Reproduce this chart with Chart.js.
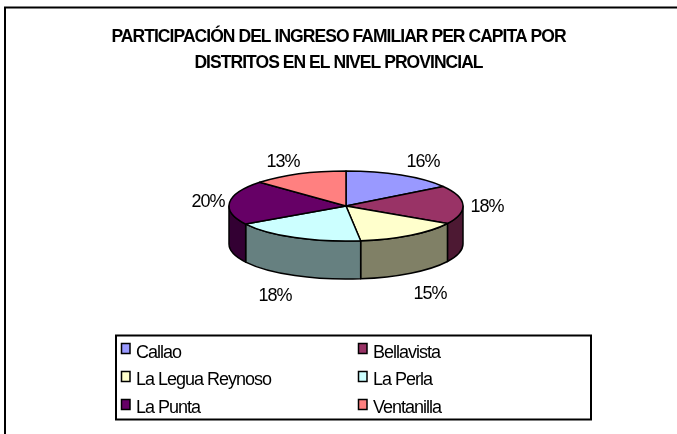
<!DOCTYPE html>
<html><head><meta charset="utf-8">
<style>html,body{margin:0;padding:0;background:#fff}canvas{display:block}</style>
<script src="https://cdn.jsdelivr.net/npm/chart.js@4"></script>
</head><body>
<div style="width:677px;height:434px"><canvas id="c"></canvas></div>
<script>
const titleLines = ['PARTICIPACIÓN DEL INGRESO FAMILIAR PER CAPITA POR', 'DISTRITOS EN EL NIVEL PROVINCIAL'];
const categories = ['Callao', 'Bellavista', 'La Legua Reynoso', 'La Perla', 'La Punta', 'Ventanilla'];
const shares = [15.6, 17.7, 14.7, 18.4, 20.4, 13.2];
const topColors = ['#9999FF', '#993366', '#FFFFCC', '#CCFFFF', '#660066', '#FF8080'];
const sideColors = ['#4D4D80', '#4D1933', '#808066', '#668080', '#330033', '#804040'];
const FONT = '"Liberation Sans", Arial, sans-serif';

const tilt = 0.3, depth = 38, pieShiftX = 7.5;
const labelPos = [[423,162],[487,207],[430,294],[275,296],[208,202],[283,162]];

const pie3d = {
  id: 'pie3d',
  beforeDraw(chart) {
    const ctx = chart.ctx;
    ctx.save();
    ctx.fillStyle = '#fff';
    ctx.fillRect(0, 0, chart.width, chart.height);
    ctx.strokeStyle = '#000';
    ctx.lineWidth = 2;
    ctx.beginPath();
    ctx.moveTo(5, chart.height);
    ctx.lineTo(5, 7.5);
    ctx.lineTo(chart.width, 7.5);
    ctx.stroke();
    ctx.restore();
    ctx.letterSpacing = '-0.95px';
  },
  beforeDatasetDraw(chart) {
    const ctx = chart.ctx;
    const arcs = chart.getDatasetMeta(0).data;
    const a0 = arcs[0];
    const cx = a0.x + pieShiftX, cy = a0.y, rx = a0.outerRadius, ry = rx * tilt;
    const norm = t => { const p = Math.PI * 2; return ((t % p) + p) % p; };
    ctx.save();
    ctx.strokeStyle = '#000';
    ctx.lineWidth = 1.5;
    ctx.lineJoin = 'round';
    arcs.forEach((a, i) => {
      let s = norm(a.startAngle), e = s + (a.endAngle - a.startAngle);
      const ranges = [[s, e], [s - Math.PI * 2, e - Math.PI * 2]];
      ranges.forEach(([p, q]) => {
        const from = Math.max(p, 0), to = Math.min(q, Math.PI);
        if (to <= from) return;
        ctx.beginPath();
        ctx.ellipse(cx, cy, rx, ry, 0, from, to);
        ctx.ellipse(cx, cy + depth, rx, ry, 0, to, from, true);
        ctx.closePath();
        ctx.fillStyle = sideColors[i];
        ctx.fill();
        ctx.stroke();
      });
    });
    arcs.forEach((a, i) => {
      ctx.beginPath();
      ctx.moveTo(cx, cy);
      ctx.ellipse(cx, cy, rx, ry, 0, a.startAngle, a.endAngle);
      ctx.closePath();
      ctx.fillStyle = topColors[i];
      ctx.fill();
      ctx.stroke();
    });
    ctx.restore();
    return false;
  },
  afterDatasetsDraw(chart) {
    const ctx = chart.ctx;
    const total = shares.reduce((p, v) => p + v, 0);
    ctx.save();
    ctx.letterSpacing = '-1px';
    ctx.fillStyle = '#000';
    ctx.font = '18px ' + FONT;
    ctx.textAlign = 'center';
    ctx.textBaseline = 'middle';
    shares.forEach((v, i) => {
      ctx.fillText(Math.round(v / total * 100) + '%', labelPos[i][0], labelPos[i][1]);
    });
    ctx.strokeStyle = '#000';
    ctx.lineWidth = 2;
    ctx.strokeRect(116, 335.5, 475, 84);
    ctx.textAlign = 'left';
    const cols = [121, 358], rows = [343, 371, 399], textRows = [353, 380, 408];
    categories.forEach((name, i) => {
      const x = cols[i % 2], r = Math.floor(i / 2);
      ctx.fillStyle = topColors[i];
      ctx.lineWidth = 1.5;
      ctx.fillRect(x + .5, rows[r] + .5, 8.5, 10);
      ctx.strokeRect(x + .5, rows[r] + .5, 8.5, 10);
      ctx.fillStyle = '#000';
      ctx.fillText(name, x + 15, textRows[r]);
    });
    ctx.restore();
  }
};

new Chart(document.getElementById('c'), {
  type: 'pie',
  data: { labels: categories, datasets: [{ data: shares, backgroundColor: topColors, borderWidth: 0, radius: 117 }] },
  plugins: [pie3d],
  options: {
    responsive: true,
    maintainAspectRatio: false,
    animation: false,
    layout: { padding: { left: 0, right: 0, top: 0, bottom: 115 } },
    plugins: {
      legend: { display: false },
      tooltip: { enabled: false },
      title: {
        display: true,
        text: titleLines,
        color: '#000',
        font: { family: FONT, size: 17.5, weight: 'bold', lineHeight: 1.486 },
        padding: { top: 24, bottom: 17 },
        fullSize: true
      }
    }
  }
});
</script>
</body></html>
